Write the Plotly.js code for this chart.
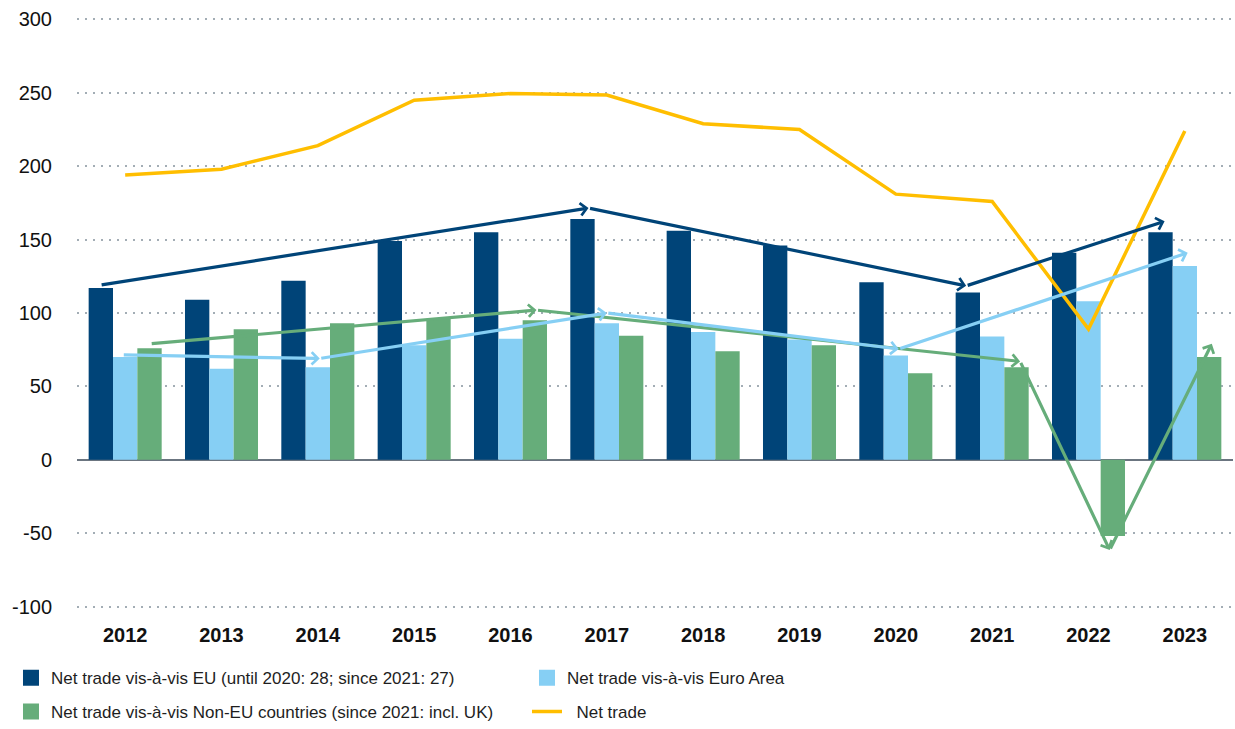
<!DOCTYPE html>
<html><head><meta charset="utf-8">
<script src="https://cdn.plot.ly/plotly-3.0.1.min.js"></script>
<style>html,body{margin:0;padding:0;background:#fff}#chart{width:1235px;height:729px}</style>
</head><body><div id="chart"></div>
<script>
const years = ['2012','2013','2014','2015','2016','2017','2018','2019','2020','2021','2022','2023'];
const euValues = [117, 109, 122, 149, 155, 164, 156, 146, 121, 114, 141, 155];
const euroAreaValues = [70, 62, 63, 78, 82.5, 93, 87, 82, 71, 84, 108, 132];
const nonEuValues = [76, 89, 93, 96, 95, 84.5, 74, 78, 59, 63, -52, 70];
const netTradeValues = [194, 198, 214, 245, 249.5, 248.5, 229, 225, 181, 176, 89, 224];

const yTickVals = [-100, -50, 0, 50, 100, 150, 200, 250, 300];
const yTickText = ['-100', '-50', '0', '50', '100', '150', '200', '250', '300'];

// trend arrows: positions on the category scale (index) and values
const euTrendX = [-0.26, 4.81, 8.73, 10.79];
const euTrendY = [119, 171.5, 118.5, 162.5];
const euroAreaTrendX = [-0.03, 2.02, 5.0, 8.03, 11.03];
const euroAreaTrendY = [71.5, 69, 100, 75.5, 141];
const nonEuTrendX = [0.26, 4.27, 9.29, 10.22, 11.28];
const nonEuTrendY = [79, 102, 67, -61.5, 79];

const names = [
  'Net trade vis-à-vis EU (until 2020: 28; since 2021: 27)',
  'Net trade vis-à-vis Euro Area',
  'Net trade vis-à-vis Non-EU countries (since 2021: incl. UK)',
  'Net trade'
];
const cEU = '#004478', cEA = '#86CFF4', cNonEU = '#66AD7A', cNet = '#FFBE00';
const FONT = '"Liberation Sans", Arial, sans-serif';

function legendSwatch(name, color, legend, rank) {
  return {type:'scatter', mode:'markers', x:[null], y:[null], name:name, legend:legend, legendrank:rank,
    marker:{symbol:'square', size:22, color:color}, hoverinfo:'skip'};
}

const traces = [
  {type:'bar', x: years, y: euValues, name: names[0], marker:{color:cEU}, showlegend:false},
  {type:'bar', x: years, y: euroAreaValues, name: names[1], marker:{color:cEA}, showlegend:false},
  {type:'bar', x: years, y: nonEuValues, name: names[2], marker:{color:cNonEU}, showlegend:false},
  {type:'scatter', mode:'lines', x: years, y: netTradeValues, name: '\u00a0\u00a0' + names[3],
    line:{color:cNet, width:3.5}, legend:'legend2', legendrank:4},
  legendSwatch(names[0], cEU, 'legend', 1),
  legendSwatch(names[1], cEA, 'legend', 2),
  legendSwatch(names[2], cNonEU, 'legend2', 3)
];

function arrows(xs, ys, color) {
  const out = [];
  for (let i = 1; i < xs.length; i++) {
    out.push({x: xs[i], y: ys[i], ax: xs[i-1], ay: ys[i-1], xref:'x', yref:'y', axref:'x', ayref:'y',
      text:'', showarrow:true, arrowhead:4, arrowsize:0.75, arrowwidth:3.2, arrowcolor:color,
      standoff:0, startstandoff:0});
  }
  return out;
}
const annotations = [].concat(
  arrows(euTrendX, euTrendY, cEU),
  arrows(nonEuTrendX, nonEuTrendY, cNonEU),
  arrows(euroAreaTrendX, euroAreaTrendY, cEA)
);

const legendCommon = {orientation:'h', xanchor:'left', yanchor:'middle', x:-0.0571,
  entrywidth:471, itemsizing:'trace', font:{family:FONT, size:17, color:'#1e1e1e'},
  bgcolor:'rgba(0,0,0,0)', traceorder:'normal'};

const layout = {
  width:1235, height:729,
  margin:{l:77, r:2, t:17.5, b:120.5, autoexpand:false},
  paper_bgcolor:'#fff', plot_bgcolor:'#fff',
  barmode:'group', bargap:0.242, bargroupgap:0,
  font:{family:FONT, color:'#111'},
  showlegend:true,
  legend: Object.assign({}, legendCommon, {y:-0.119}),
  legend2: Object.assign({}, legendCommon, {y:-0.176}),
  xaxis:{type:'category', showgrid:false, showline:false, ticks:'', ticklabelstandoff:13,
    tickfont:{family:FONT, size:20, color:'#111', weight:'bold'}, fixedrange:true},
  yaxis:{range:[-101,301], tickvals:yTickVals, ticktext:yTickText, showgrid:true, gridcolor:'#a3adb5', gridwidth:2,
    griddash:'2px,6px', zeroline:true, zerolinecolor:'#6b7580', zerolinewidth:2, ticks:'',
    ticklabelstandoff:24, tickfont:{family:FONT, size:20, color:'#111'}, fixedrange:true},
  annotations: annotations,
  hovermode:false
};

Plotly.newPlot('chart', traces, layout, {displayModeBar:false, staticPlot:true});
</script>
</body></html>
